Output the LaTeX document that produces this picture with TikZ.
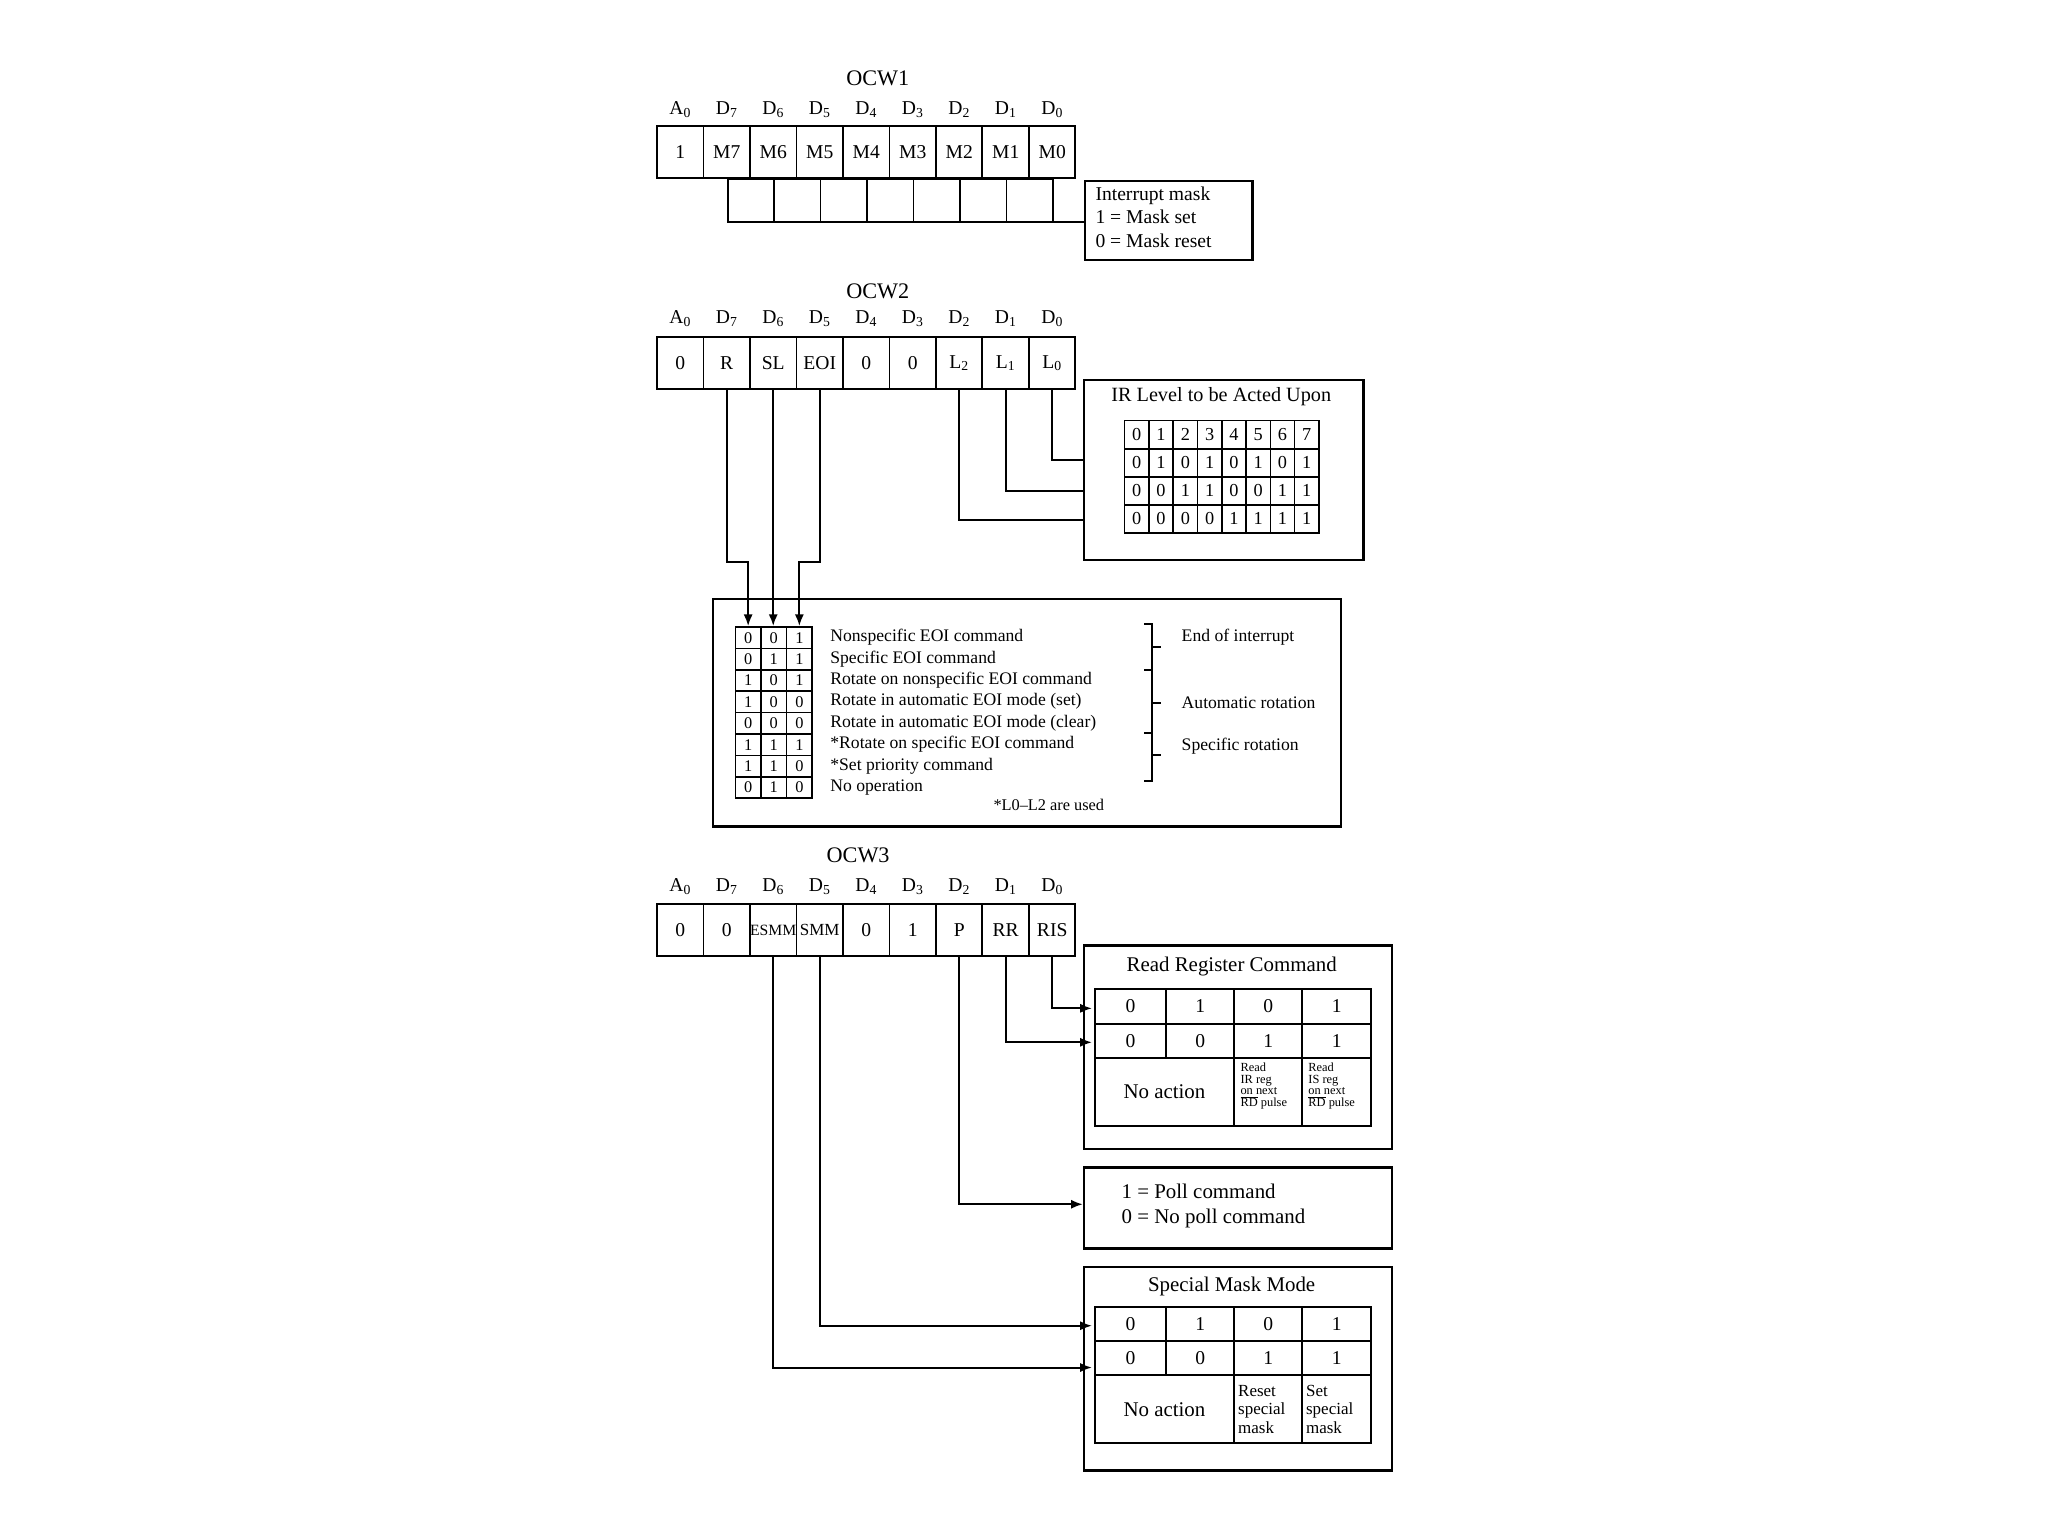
\documentclass[tikz,border=0pt]{standalone}
\usepackage{fontspec}
\setmainfont{Liberation Serif}
\usetikzlibrary{arrows.meta}
\begin{document}
\begin{tikzpicture}[x=1pt,y=-1pt,line width=1.5pt,
  cell/.style={draw,minimum width=35.6pt,minimum height=40pt,inner sep=0pt,font=\fontsize{15}{15}\selectfont},
  hdr/.style={font=\fontsize{15}{15}\selectfont},
  ttl/.style={font=\fontsize{17}{17}\selectfont},
  box/.style={draw,line width=1.7pt},
  sm/.style={font=\fontsize{13.5}{14}\selectfont,anchor=west,inner sep=0pt},
  tiny/.style={font=\fontsize{9.5}{9}\selectfont,align=left,inner sep=0pt},
  arr/.style={-{Latex[length=9pt,width=7pt]}}]
\useasboundingbox (0,0) rectangle (1568,1176);
% ---------- OCW1
\node[ttl] (t1) at (672,60) {OCW1};
\foreach \h [count=\i from 0] in {A\textsubscript{0},D\textsubscript{7},D\textsubscript{6},D\textsubscript{5},D\textsubscript{4},D\textsubscript{3},D\textsubscript{2},D\textsubscript{1},D\textsubscript{0}}
  \node[hdr] (ha\i) at (503+35.6*\i+17.8,84) {\h};
\foreach \t [count=\i from 0] in {1,M7,M6,M5,M4,M3,M2,M1,M0}
  \node[cell] (a\i) at (503+35.6*\i+17.8,116.5) {\t};
\foreach \i in {0,...,6}
  \draw (557+35.6*\i,137) rectangle (557+35.6*\i+35.6,170);
\draw (806.2,170) -- (830,170);
\node[box,minimum width=128pt,minimum height=60pt,anchor=north west,inner sep=0pt] (mask) at (830,138) {};
\node[font=\fontsize{15}{18}\selectfont,align=left,anchor=north west,inner sep=0pt] (maskt) at (838,142) {Interrupt mask\\1 = Mask set\\0 = Mask reset};
% ---------- OCW2
\node[ttl] (t2) at (672,223) {OCW2};
\foreach \h [count=\i from 0] in {A\textsubscript{0},D\textsubscript{7},D\textsubscript{6},D\textsubscript{5},D\textsubscript{4},D\textsubscript{3},D\textsubscript{2},D\textsubscript{1},D\textsubscript{0}}
  \node[hdr] (hb\i) at (503+35.6*\i+17.8,244) {\h};
\foreach \t [count=\i from 0] in {0,R,SL,EOI,0,0,L\textsubscript{2},L\textsubscript{1},L\textsubscript{0}}
  \node[cell] (b\i) at (503+35.6*\i+17.8,278) {\t};
\node[box,minimum width=214pt,minimum height=138pt,anchor=north west,inner sep=0pt] (irbox) at (829,290) {};
\node[font=\fontsize{15.5}{15}\selectfont] (irt) at (935,304) {IR Level to be Acted Upon};
\foreach \r [count=\j from 0] in {{0,1,2,3,4,5,6,7},{0,1,0,1,0,1,0,1},{0,0,1,1,0,0,1,1},{0,0,0,0,1,1,1,1}}
  \foreach \v [count=\i from 0] in \r
    \node[draw,line width=1.3pt,minimum width=18.6pt,minimum height=21.5pt,inner sep=0pt,font=\fontsize{14}{14}\selectfont] (ir\j\i) at (861+18.6*\i+9.3,322+21.5*\j+10.75) {\v};
\coordinate (l0) at (829,352); \coordinate (l1) at (829,376); \coordinate (l2) at (829,398);
\draw (b8.south) |- (l0);
\draw (b7.south) |- (l1);
\draw (b6.south) |- (l2);
% EOI box
\node[box,minimum width=481pt,minimum height=174pt,anchor=north west,inner sep=0pt] (eoibox) at (545,458) {};
\foreach \r [count=\j from 0] in {{0,0,1},{0,1,1},{1,0,1},{1,0,0},{0,0,0},{1,1,1},{1,1,0},{0,1,0}}
  \foreach \v [count=\i from 0] in \r
    \node[draw,line width=1.3pt,minimum width=19.6pt,minimum height=16.4pt,inner sep=0pt,font=\fontsize{12.5}{12}\selectfont] (e\j\i) at (563+19.6*\i+9.8,480+16.4*\j+8.2) {\v};
\coordinate (rb) at (e00.north |- 0,430); \coordinate (eb) at (e02.north |- 0,430);
\draw[arr] (b1.south) |- (rb) -- (e00.north);
\draw[arr] (b2.south) -- (b2.south |- e01.north);
\draw[arr] (b3.south) |- (eb) -- (e02.north);
\foreach \t [count=\j from 0] in {Nonspecific EOI command,Specific EOI command,Rotate on nonspecific EOI command,Rotate in automatic EOI mode (set),Rotate in automatic EOI mode (clear),*Rotate on specific EOI command,*Set priority command,No operation}
  \node[sm] (et\j) at (635,488+16.4*\j) {\t};
\node[font=\fontsize{12.5}{12}\selectfont] (fn) at (803,616) {*L0--L2 are used};
\draw (876,478) -- (882,478) -- (882,513) -- (876,513);
\draw (882,495) -- (889,495);
\draw (882,513) -- (882,561) -- (876,561);
\draw (882,538) -- (889,538);
\draw (882,561) -- (882,598) -- (876,598);
\draw (882,578) -- (889,578);
\node[sm] (g1) at (904,488) {End of interrupt};
\node[sm] (g2) at (904,538) {Automatic rotation};
\node[sm] (g3) at (904,571) {Specific rotation};
% ---------- OCW3
\node[ttl] (t3) at (657,655) {OCW3};
\foreach \h [count=\i from 0] in {A\textsubscript{0},D\textsubscript{7},D\textsubscript{6},D\textsubscript{5},D\textsubscript{4},D\textsubscript{3},D\textsubscript{2},D\textsubscript{1},D\textsubscript{0}}
  \node[hdr] (hc\i) at (503+35.6*\i+17.8,679) {\h};
\foreach \t [count=\i from 0] in {0,0,ESMM,SMM,0,1,P,RR,RIS}
  \node[cell] (c\i) at (503+35.6*\i+17.8,712) {\ifnum\i=2 \fontsize{12}{12}\selectfont\fi\ifnum\i=3 \fontsize{13}{13}\selectfont\fi\t};
% read register box
\node[box,minimum width=236pt,minimum height=156pt,anchor=north west,inner sep=0pt] (rrbox) at (829,723) {};
\node[font=\fontsize{16}{16}\selectfont] (rrt) at (943,740) {Read Register Command};
\foreach \v/\xa/\xb [count=\i from 0] in {0/838/893,1/893/945,0/945/997,1/997/1050}
  \node[draw,minimum width=\xb pt-\xa pt,minimum height=27pt,inner sep=0pt,font=\fontsize{15}{15}\selectfont] (ra\i) at ({(\xa+\xb)/2},770.5) {\v};
\foreach \v/\xa/\xb [count=\i from 0] in {0/838/893,0/893/945,1/945/997,1/997/1050}
  \node[draw,minimum width=\xb pt-\xa pt,minimum height=26pt,inner sep=0pt,font=\fontsize{15}{15}\selectfont] (rb\i) at ({(\xa+\xb)/2},797) {\v};
\node[draw,minimum width=107pt,minimum height=52pt,inner sep=0pt,font=\fontsize{16}{16}\selectfont] (rna) at (891.5,836) {No action};
\node[draw,minimum width=52pt,minimum height=52pt,inner sep=0pt] (rir) at (971,836) {};
\node[draw,minimum width=53pt,minimum height=52pt,inner sep=0pt] (ris) at (1023.5,836) {};
\node[tiny,anchor=north west] (rirt) at (949,813) {Read\\IR reg\\on next\\$\overline{\mbox{RD}}$ pulse};
\node[tiny,anchor=north west] (rist) at (1001,813) {Read\\IS reg\\on next\\$\overline{\mbox{RD}}$ pulse};
\coordinate (a1) at (836,772); \coordinate (a2) at (836,798);
\draw[arr] (c8.south) |- (a1);
\draw[arr] (c7.south) |- (a2);
% poll box
\node[box,minimum width=236pt,minimum height=62pt,anchor=north west,inner sep=0pt] (pbox) at (829,893) {};
\node[font=\fontsize{16}{19}\selectfont,align=left,anchor=west,inner sep=0pt] (pt) at (858,923.5) {1 = Poll command\\0 = No poll command};
\coordinate (pp) at (829,922);
\draw[arr] (c6.south) |- (pp);
% special mask box
\node[box,minimum width=236pt,minimum height=156pt,anchor=north west,inner sep=0pt] (smbox) at (829,969) {};
\node[font=\fontsize{16}{16}\selectfont] (smt) at (943,985) {Special Mask Mode};
\foreach \v/\xa/\xb [count=\i from 0] in {0/838/893,1/893/945,0/945/997,1/997/1050}
  \node[draw,minimum width=\xb pt-\xa pt,minimum height=26pt,inner sep=0pt,font=\fontsize{15}{15}\selectfont] (sa\i) at ({(\xa+\xb)/2},1014) {\v};
\foreach \v/\xa/\xb [count=\i from 0] in {0/838/893,0/893/945,1/945/997,1/997/1050}
  \node[draw,minimum width=\xb pt-\xa pt,minimum height=26pt,inner sep=0pt,font=\fontsize{15}{15}\selectfont] (sb\i) at ({(\xa+\xb)/2},1040) {\v};
\node[draw,minimum width=107pt,minimum height=52pt,inner sep=0pt,font=\fontsize{16}{16}\selectfont] (sna) at (891.5,1079) {No action};
\node[draw,minimum width=52pt,minimum height=52pt,inner sep=0pt,font=\fontsize{13}{14}\selectfont,align=left,text width=46pt] (srs) at (971,1079) {Reset\\special\\mask};
\node[draw,minimum width=53pt,minimum height=52pt,inner sep=0pt,font=\fontsize{13}{14}\selectfont,align=left,text width=47pt] (sss) at (1023.5,1079) {Set\\special\\mask};
\coordinate (s1) at (836,1015); \coordinate (s2) at (836,1047);
\draw[arr] (c3.south) |- (s1);
\draw[arr] (c2.south) |- (s2);
\end{tikzpicture}
\end{document}
